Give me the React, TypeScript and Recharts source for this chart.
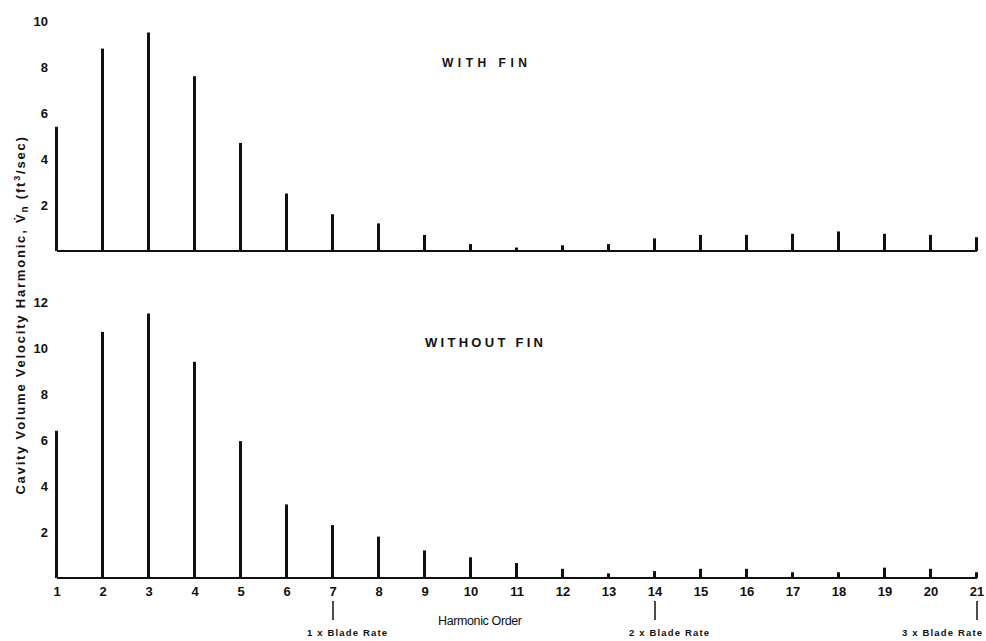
import React from 'react';
import { ComposedChart, Bar, XAxis, YAxis, ReferenceLine } from 'recharts';

// Harmonic orders along the x axis
const harmonics = [1, 2, 3, 4, 5, 6, 7, 8, 9, 10, 11, 12, 13, 14, 15, 16, 17, 18, 19, 20, 21];

// Cavity volume velocity harmonic amplitudes, ft^3/sec
const withFin = [5.4, 8.8, 9.5, 7.6, 4.7, 2.5, 1.6, 1.2, 0.7, 0.3, 0.15, 0.25, 0.3, 0.55, 0.7, 0.7, 0.75, 0.85, 0.75, 0.7, 0.6];
const withoutFin = [6.4, 10.7, 11.5, 9.4, 5.95, 3.2, 2.3, 1.8, 1.2, 0.9, 0.65, 0.4, 0.2, 0.3, 0.4, 0.4, 0.25, 0.25, 0.45, 0.4, 0.25];

// Axis ticks
const withFinTicks = [2, 4, 6, 8, 10];
const withoutFinTicks = [2, 4, 6, 8, 10, 12];

// Blade-rate markers under the harmonic axis
const bladeHarmonics = [7, 14, 21];
const bladeLabels = ['1 x Blade Rate', '2 x Blade Rate', '3 x Blade Rate'];

const topData = harmonics.map((h, i) => ({ h, v: withFin[i] }));
const bottomData = harmonics.map((h, i) => ({ h, v: withoutFin[i] }));

const INK = '#111';
const FONT = '"Liberation Sans", Arial, sans-serif';
const W = 986;
const H = 641;

const HarmonicTick = (props: any) => {
  const { x, y, payload } = props;
  const v = payload.value;
  const bi = bladeHarmonics.indexOf(v);
  return (
    <g>
      <text x={x} y={y} dy="0.71em" textAnchor="middle" fontFamily={FONT} fontWeight="bold" fontSize={13} fill={INK}>
        {v}
      </text>
      {bi >= 0 && (
        <g>
          <line x1={x} x2={x} y1={y + 14} y2={y + 33} stroke={INK} strokeWidth={1.5} />
          <text
            x={bi === 2 ? x - 75 : x - 26}
            y={y + 49}
            fontFamily={FONT}
            fontWeight="bold"
            fontSize={9.5}
            fill={INK}
            textLength={80}
            lengthAdjust="spacing"
          >
            {bladeLabels[bi]}
          </text>
        </g>
      )}
    </g>
  );
};

const yTickStyle = { fontFamily: FONT, fontWeight: 'bold', fontSize: 13, fill: INK } as any;

export default function App() {
  return (
    <div style={{ position: 'absolute', left: 0, top: 0, width: W, height: H, background: '#fff' }}>
      {/* Upper panel: with fin */}
      <div style={{ position: 'absolute', left: 0, top: 0 }}>
        <ComposedChart width={W} height={H} data={topData} margin={{ top: 21, right: 9, bottom: 390, left: 0 }}>
          <XAxis
            dataKey="h"
            type="number"
            domain={[1, 21]}
            ticks={harmonics}
            height={0}
            tick={false}
            tickLine={false}
            axisLine={false}
          />
          <YAxis
            type="number"
            domain={[0, 10]}
            ticks={withFinTicks}
            width={57}
            axisLine={false}
            tickLine={false}
            tickSize={0}
            tickMargin={9}
            tick={yTickStyle}
          />
          <ReferenceLine y={0} stroke={INK} strokeWidth={2} ifOverflow="visible" />
          <Bar dataKey="v" fill={INK} barSize={3} isAnimationActive={false} />
        </ComposedChart>
      </div>

      {/* Lower panel: without fin */}
      <div style={{ position: 'absolute', left: 0, top: 0 }}>
        <ComposedChart width={W} height={H} data={bottomData} margin={{ top: 302, right: 9, bottom: 5, left: 0 }}>
          <XAxis
            dataKey="h"
            type="number"
            domain={[1, 21]}
            ticks={harmonics}
            interval={0}
            height={58}
            tickLine={false}
            tickSize={0}
            tickMargin={9}
            axisLine={false}
            tick={<HarmonicTick />}
          />
          <YAxis
            type="number"
            domain={[0, 12]}
            ticks={withoutFinTicks}
            width={57}
            axisLine={false}
            tickLine={false}
            tickSize={0}
            tickMargin={9}
            tick={yTickStyle}
          />
          <ReferenceLine y={0} stroke={INK} strokeWidth={2} ifOverflow="visible" />
          <Bar dataKey="v" fill={INK} barSize={3} isAnimationActive={false} />
        </ComposedChart>
      </div>

      {/* Shared titles and axis captions */}
      <svg width={W} height={H} style={{ position: 'absolute', left: 0, top: 0, pointerEvents: 'none' }}>
        <text x={442} y={67} fontFamily={FONT} fontWeight="bold" fontSize={12} fill={INK} textLength={85} lengthAdjust="spacing">
          WITH  FIN
        </text>
        <text x={425} y={347} fontFamily={FONT} fontWeight="bold" fontSize={13} fill={INK} textLength={118} lengthAdjust="spacing">
          WITHOUT  FIN
        </text>
        <text x={438} y={625} fontFamily={FONT} fontSize={12.5} fill={INK} textLength={84} lengthAdjust="spacing">
          Harmonic Order
        </text>
        <text
          x={0}
          y={0}
          transform="translate(25, 315) rotate(-90)"
          textAnchor="middle"
          fontFamily={FONT}
          fontWeight="bold"
          fontSize={13}
          fill={INK}
          letterSpacing={1.8}
        >
          Cavity Volume Velocity Harmonic, V̇
          <tspan fontSize={10} dy={3}>n</tspan>
          <tspan dy={-3}> (ft</tspan>
          <tspan fontSize={9} dy={-5}>3</tspan>
          <tspan dy={5}>/sec)</tspan>
        </text>
      </svg>
    </div>
  );
}
